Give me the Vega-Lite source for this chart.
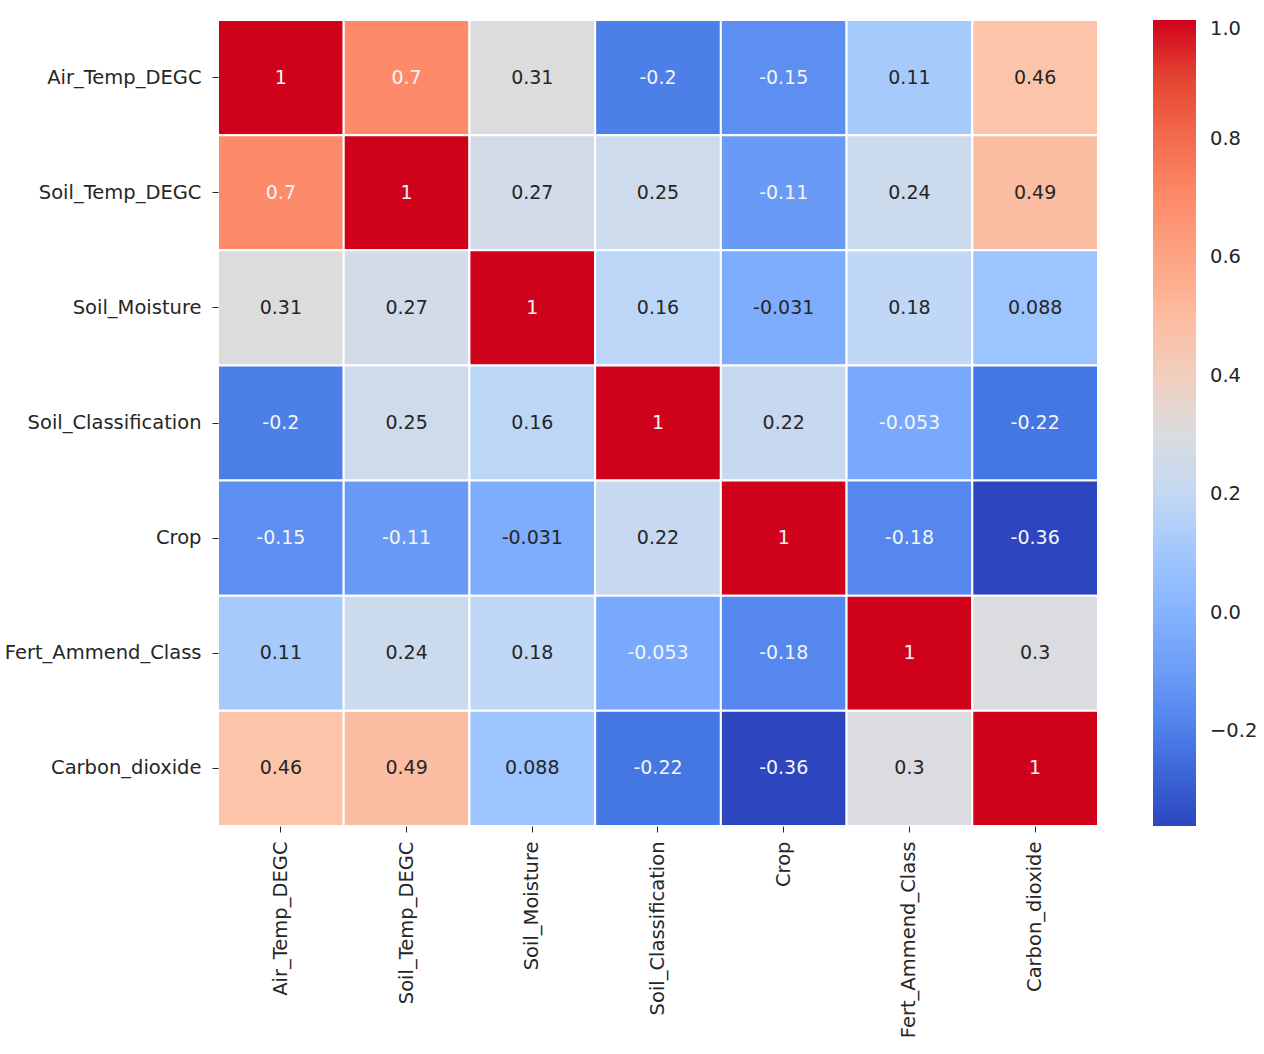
{
  "$schema": "https://vega.github.io/schema/vega-lite/v6.json",
  "width": 880,
  "height": 806,
  "autosize": {"type": "none"},
  "padding": {"left": 218, "top": 20, "right": 166, "bottom": 228},
  "background": "white",
  "config": {
    "locale": {"number": {"decimal": ".", "thousands": ",", "grouping": [3], "currency": ["$", ""], "minus": "-"}},
    "view": {"stroke": null},
    "font": "DejaVu Sans",
    "axis": {"labelFont": "DejaVu Sans", "labelFontSize": 19.5, "labelColor": "#262626", "labelLimit": 0, "tickColor": "#262626", "tickSize": 6, "domain": false, "grid": false},
    "legend": {"labelFont": "DejaVu Sans", "labelFontSize": 19.5, "labelColor": "#262626"}
  },
  "data": {
    "values": [
      {"r": "Air_Temp_DEGC", "c": "Air_Temp_DEGC", "v": 1},
      {"r": "Air_Temp_DEGC", "c": "Soil_Temp_DEGC", "v": 0.7},
      {"r": "Air_Temp_DEGC", "c": "Soil_Moisture", "v": 0.31},
      {"r": "Air_Temp_DEGC", "c": "Soil_Classification", "v": -0.2},
      {"r": "Air_Temp_DEGC", "c": "Crop", "v": -0.15},
      {"r": "Air_Temp_DEGC", "c": "Fert_Ammend_Class", "v": 0.11},
      {"r": "Air_Temp_DEGC", "c": "Carbon_dioxide", "v": 0.46},
      {"r": "Soil_Temp_DEGC", "c": "Air_Temp_DEGC", "v": 0.7},
      {"r": "Soil_Temp_DEGC", "c": "Soil_Temp_DEGC", "v": 1},
      {"r": "Soil_Temp_DEGC", "c": "Soil_Moisture", "v": 0.27},
      {"r": "Soil_Temp_DEGC", "c": "Soil_Classification", "v": 0.25},
      {"r": "Soil_Temp_DEGC", "c": "Crop", "v": -0.11},
      {"r": "Soil_Temp_DEGC", "c": "Fert_Ammend_Class", "v": 0.24},
      {"r": "Soil_Temp_DEGC", "c": "Carbon_dioxide", "v": 0.49},
      {"r": "Soil_Moisture", "c": "Air_Temp_DEGC", "v": 0.31},
      {"r": "Soil_Moisture", "c": "Soil_Temp_DEGC", "v": 0.27},
      {"r": "Soil_Moisture", "c": "Soil_Moisture", "v": 1},
      {"r": "Soil_Moisture", "c": "Soil_Classification", "v": 0.16},
      {"r": "Soil_Moisture", "c": "Crop", "v": -0.031},
      {"r": "Soil_Moisture", "c": "Fert_Ammend_Class", "v": 0.18},
      {"r": "Soil_Moisture", "c": "Carbon_dioxide", "v": 0.088},
      {"r": "Soil_Classification", "c": "Air_Temp_DEGC", "v": -0.2},
      {"r": "Soil_Classification", "c": "Soil_Temp_DEGC", "v": 0.25},
      {"r": "Soil_Classification", "c": "Soil_Moisture", "v": 0.16},
      {"r": "Soil_Classification", "c": "Soil_Classification", "v": 1},
      {"r": "Soil_Classification", "c": "Crop", "v": 0.22},
      {"r": "Soil_Classification", "c": "Fert_Ammend_Class", "v": -0.053},
      {"r": "Soil_Classification", "c": "Carbon_dioxide", "v": -0.22},
      {"r": "Crop", "c": "Air_Temp_DEGC", "v": -0.15},
      {"r": "Crop", "c": "Soil_Temp_DEGC", "v": -0.11},
      {"r": "Crop", "c": "Soil_Moisture", "v": -0.031},
      {"r": "Crop", "c": "Soil_Classification", "v": 0.22},
      {"r": "Crop", "c": "Crop", "v": 1},
      {"r": "Crop", "c": "Fert_Ammend_Class", "v": -0.18},
      {"r": "Crop", "c": "Carbon_dioxide", "v": -0.36},
      {"r": "Fert_Ammend_Class", "c": "Air_Temp_DEGC", "v": 0.11},
      {"r": "Fert_Ammend_Class", "c": "Soil_Temp_DEGC", "v": 0.24},
      {"r": "Fert_Ammend_Class", "c": "Soil_Moisture", "v": 0.18},
      {"r": "Fert_Ammend_Class", "c": "Soil_Classification", "v": -0.053},
      {"r": "Fert_Ammend_Class", "c": "Crop", "v": -0.18},
      {"r": "Fert_Ammend_Class", "c": "Fert_Ammend_Class", "v": 1},
      {"r": "Fert_Ammend_Class", "c": "Carbon_dioxide", "v": 0.3},
      {"r": "Carbon_dioxide", "c": "Air_Temp_DEGC", "v": 0.46},
      {"r": "Carbon_dioxide", "c": "Soil_Temp_DEGC", "v": 0.49},
      {"r": "Carbon_dioxide", "c": "Soil_Moisture", "v": 0.088},
      {"r": "Carbon_dioxide", "c": "Soil_Classification", "v": -0.22},
      {"r": "Carbon_dioxide", "c": "Crop", "v": -0.36},
      {"r": "Carbon_dioxide", "c": "Fert_Ammend_Class", "v": 0.3},
      {"r": "Carbon_dioxide", "c": "Carbon_dioxide", "v": 1}
    ]
  },
  "encoding": {
    "x": {
      "field": "c", "type": "nominal",
      "sort": ["Air_Temp_DEGC", "Soil_Temp_DEGC", "Soil_Moisture", "Soil_Classification", "Crop", "Fert_Ammend_Class", "Carbon_dioxide"],
      "scale": {"paddingInner": 0, "paddingOuter": 0},
      "axis": {"title": null, "orient": "bottom", "labelAngle": 270, "labelPadding": 9}
    },
    "y": {
      "field": "r", "type": "nominal",
      "sort": ["Air_Temp_DEGC", "Soil_Temp_DEGC", "Soil_Moisture", "Soil_Classification", "Crop", "Fert_Ammend_Class", "Carbon_dioxide"],
      "scale": {"paddingInner": 0, "paddingOuter": 0},
      "axis": {"title": null, "orient": "left", "labelPadding": 11}
    }
  },
  "layer": [
    {
      "mark": {"type": "rect", "stroke": "white", "strokeWidth": 2},
      "encoding": {
        "color": {
          "field": "v", "type": "quantitative",
          "scale": {
            "type": "linear",
            "domain": [-0.36, -0.22, -0.18, -0.053, 0.088, 0.16, 0.25, 0.31, 0.46, 0.7, 0.85, 1.0],
            "range": ["#2d46c0", "#4577e2", "#5587ef", "#78a9fc", "#9cc4fe", "#bcd6f8", "#cddbec", "#dcdcdc", "#fcc5ab", "#fd8b69", "#ee5a3e", "#d0021b"]
          },
          "legend": {
            "title": null,
            "orient": "none",
            "legendX": 935,
            "legendY": 0,
            "direction": "vertical",
            "gradientLength": 806,
            "gradientThickness": 43,
            "gradientStrokeWidth": 0,
            "values": [-0.2, 0, 0.2, 0.4, 0.6, 0.8, 1.0],
            "labelExpr": "datum.value < 0 ? '\u2212' + format(-datum.value, '.1f') : format(datum.value, '.1f')",
            "labelBaseline": "middle",
            "labelOffset": 14
          }
        }
      }
    },
    {
      "transform": [{"filter": "datum.v < -0.04 || datum.v > 0.6"}],
      "mark": {"type": "text", "fontSize": 19, "font": "DejaVu Sans", "color": "#f4f4f4"},
      "encoding": {
        "text": {"field": "v", "type": "quantitative", "format": ".2~g"}
      }
    },
    {
      "transform": [{"filter": "datum.v >= -0.04 && datum.v <= 0.6"}],
      "mark": {"type": "text", "fontSize": 19, "font": "DejaVu Sans", "color": "#262626"},
      "encoding": {
        "text": {"field": "v", "type": "quantitative", "format": ".2~g"}
      }
    }
  ]
}
